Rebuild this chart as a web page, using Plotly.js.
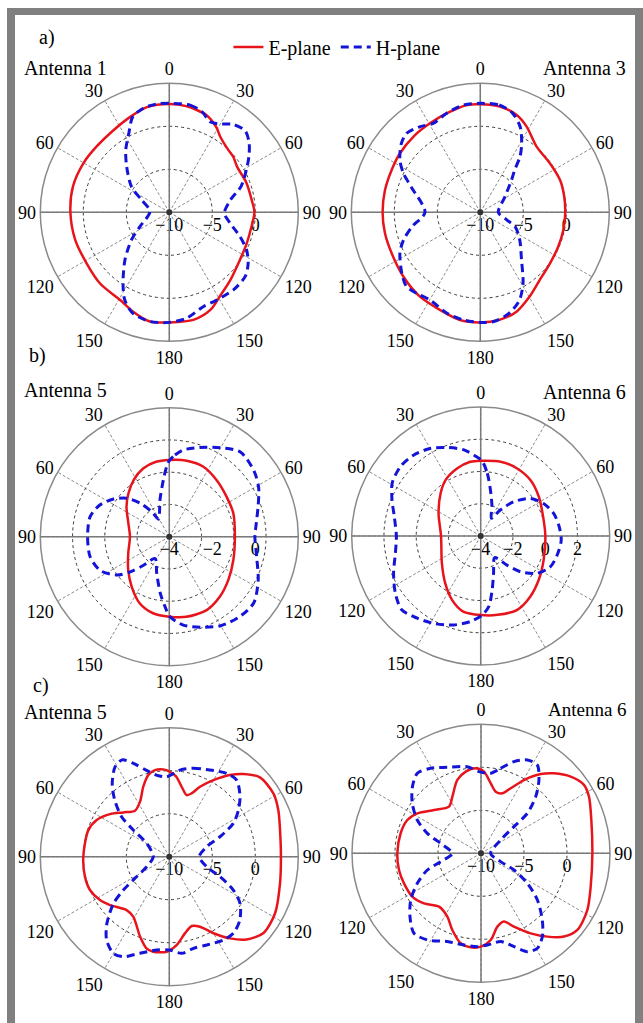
<!DOCTYPE html>
<html><head><meta charset="utf-8">
<script src="https://cdn.plot.ly/plotly-3.0.1.min.js"></script>
<style>
html,body{margin:0;padding:0;background:#fff;overflow:hidden;}
#frame{position:absolute;left:7px;top:8px;width:620px;height:1008px;border-left:8px solid #808080;border-top:7px solid #808080;border-right:8px solid #808080;background:#fff;}
#chart{position:absolute;left:0;top:0;width:643px;height:1023px;}
</style></head>
<body><div id="frame"></div><div id="chart"></div>
<script>
// ---------- angular axis ----------
const angTickVals = [0,30,60,90,120,150,180,210,240,270,300,330];
const angTickText = ['0','30','60','90','120','150','180','150','120','90','60','30'];

// ---------- radial axes ----------
const rangeDb15 = [-10, 5];  const ticksDb15 = [-10, -5, 0];
const rangeB6 = [-4, 4];     const ticksB6 = [-4, -2, 0, 2];
const rangeB5 = [-4, 2];     const ticksB5 = [-4, -2, 0];
const gridB5Range = [-4, 4]; const gridB5Ticks = [-2, 0, 2];

// ---------- a) Antenna 1 ----------
const thetaA1E = [0, 9, 21, 29, 34, 43, 49, 56, 69, 82, 90, 100, 112, 124, 138, 149, 157, 167, 180, 190, 200, 209, 224, 238, 254, 270, 285, 300, 312, 326, 338, 348];
const rA1E     = [2.6, 2.5, 2.1, 1.3, 0.6, 0.0, -0.15, -0.5, -0.4, -0.3, -0.1, -0.3, -0.3, -0.1, 0.6, 1.4, 2.3, 2.8, 2.8, 2.9, 2.3, 1.7, 1.55, 1.3, 1.4, 1.5, 1.6, 1.5, 1.4, 1.55, 2.0, 2.5];
const thetaA1H = [0, 11, 18, 24, 29, 36, 43, 49, 55, 61, 70, 79, 91, 100, 109, 116, 123, 130, 140, 152, 160, 171, 180, 190, 200, 207, 213, 223, 234, 244, 273, 294, 304, 317, 325, 333, 339, 346, 353];
const rA1H     = [2.67, 2.7, 2.3, 1.55, 1.75, 2.62, 2.95, 2.3, 1.3, 0.25, -1.1, -2.8, -3.6, -2.83, -1.3, 0.0, 0.93, 1.55, 1.7, 1.6, 1.65, 2.5, 2.8, 2.9, 2.47, 1.42, -0.12, -2.44, -4.57, -6.2, -7.75, -6.48, -4.7, -2.73, -1.17, 0.35, 1.88, 2.47, 2.67];

// ---------- a) Antenna 3 ----------
const thetaA3E = [0, 10.5, 20.5, 28.4, 40.6, 55, 68, 79, 90, 102, 114, 126, 139, 150, 160, 170, 180, 191, 202, 216, 230, 245, 258, 270, 283, 296, 306, 319, 331, 343, 353];
const rA3E     = [2.56, 2.5, 2.08, 1.33, 0.06, -0.1, 0.0, -0.07, -0.12, -0.13, -0.1, 0.04, 0.49, 1.38, 2.3, 2.7, 2.8, 2.74, 2.3, 2.05, 1.66, 1.36, 1.35, 1.36, 1.38, 1.43, 1.59, 1.75, 1.9, 2.2, 2.58];
const thetaA3H = [0, 10, 18, 25, 31, 35.5, 39, 44, 57.6, 90, 106, 112.5, 125, 139, 149, 156, 164, 173, 180, 189, 198, 210, 218, 225, 232, 243, 250, 258, 270, 290, 297, 303, 311, 317, 325, 332, 341, 351];
const rA3H     = [2.67, 2.67, 2.13, 0.97, -0.66, -2.05, -3.64, -4.77, -6.6, -7.9, -6.8, -5.6, -4.4, -2.7, -0.35, 1.19, 2.2, 2.8, 2.8, 2.67, 2.37, 1.76, 1.98, 2.17, 1.57, 0.49, -0.48, -1.86, -3.57, -1.47, 0.04, 1.15, 2.17, 2.56, 2.17, 1.7, 2.16, 2.63];

// ---------- b) Antenna 5 ----------
const thetaB5E = [0, 13, 26, 40, 55, 70, 90, 110, 126, 140, 153, 168, 180, 192, 204, 217, 231, 248, 270, 288, 305, 317, 328, 339, 350];
const rB5E     = [-0.43, -0.37, -0.38, -0.57, -0.75, -0.83, -0.95, -0.83, -0.6, -0.35, -0.17, -0.19, -0.28, -0.36, -0.61, -1.09, -1.54, -1.94, -2.17, -2.0, -1.57, -1.22, -0.88, -0.6, -0.46];
const thetaB5H = [0, 4, 9, 19, 30, 40, 52, 61, 71, 83, 90, 103, 116, 128, 138, 150, 161, 171, 179.5, 183.5, 189, 199, 213, 222, 228, 234, 244, 256, 270, 284, 294.5, 304, 312, 319, 325, 329, 340, 345.7, 354, 357.8];
const rB5H     = [-0.46, -0.19, 0.08, 0.39, 0.78, 1.14, 0.99, 0.75, 0.37, 0.06, -0.02, 0.17, 0.6, 0.99, 0.96, 0.78, 0.45, 0.16, -0.28, -0.74, -1.33, -2.2, -2.79, -2.21, -1.55, -0.97, -0.42, -0.2, -0.2, -0.2, -0.45, -0.87, -1.33, -1.94, -2.58, -3.05, -2.68, -2.24, -1.35, -0.74];

// ---------- b) Antenna 6 ----------
const thetaB6E = [0, 15, 28, 42, 56, 73, 90, 111, 127, 141, 154, 168, 180, 193, 204, 217, 235, 270, 298, 317, 328, 341, 352];
const rB6E     = [0.67, 0.77, 0.76, 0.64, 0.35, 0.05, 0.01, 0.18, 0.51, 0.86, 1.11, 1.0, 0.9, 0.81, 0.35, -0.34, -1.06, -1.54, -1.04, -0.36, 0.1, 0.44, 0.65];
const thetaB6H = [1, 6, 12, 21, 31, 37, 44, 53, 63, 73, 83, 93, 103, 114, 123.5, 132, 138, 147, 161, 168, 173.5, 179, 187, 197, 208, 218, 227, 236, 247, 258.5, 270, 282.6, 292, 301, 311, 320, 330, 339, 349, 357];
const rB6H     = [0.67, -0.09, -1.09, -2.05, -2.72, -1.98, -1.05, -0.13, 0.4, 0.74, 0.9, 1.0, 0.9, 0.72, 0.19, -0.69, -1.57, -2.4, -1.55, -0.58, 0.41, 0.9, 1.35, 1.77, 2.15, 2.45, 2.7, 2.38, 1.87, 1.4, 1.23, 1.49, 1.93, 2.4, 2.58, 2.52, 2.27, 1.88, 1.44, 0.92];

// ---------- c) Antenna 5 ----------
const thetaC5E = [0.4, 5, 10, 15.7, 19.4, 23.7, 30, 36.6, 41.8, 48.8, 58.7, 66.8, 76.5, 90, 103.5, 118, 129, 137, 143.4, 150, 156.3, 162, 168.5, 175.3, 181.6, 189.6, 194, 200, 211, 218.7, 230.8, 238, 247, 256.7, 270, 288, 296.8, 305.7, 313.9, 323.3, 332, 339.6, 345.6, 350.6, 356];
const rC5E     = [-0.12, -0.66, -1.74, -2.56, -2.19, -1.12, 0.27, 1.82, 2.9, 4.0, 4.16, 3.79, 3.24, 2.98, 3.24, 3.94, 4.1, 3.16, 1.83, 0.28, -1.11, -1.53, -0.9, 0.31, 1.05, 1.2, 0.98, -0.09, -1.86, -2.05, -1.1, -0.49, 0.0, 0.08, 0.0, -0.09, -0.54, -1.51, -2.57, -3.33, -2.75, -1.32, -0.19, 0.21, 0.18];
const thetaC5H = [7, 15, 25, 34.5, 41.3, 49.7, 56, 62.5, 68.5, 75, 90, 105, 111.5, 117.5, 123.4, 132, 140, 147, 157, 165, 172.7, 180, 187.7, 197, 204.7, 210, 217, 223, 230, 234, 238.5, 246, 270, 300.5, 306.5, 310, 316, 322, 329, 334, 339, 345, 351, 358];
const rC5H     = [0.15, 0.64, 1.13, 1.76, 1.86, 0.78, -0.31, -1.61, -3.67, -5.5, -6.51, -5.5, -3.67, -1.61, -0.15, 1.03, 1.61, 1.55, 1.15, 1.02, 1.33, 0.85, 0.95, 1.74, 2.8, 3.0, 2.12, 0.64, -1.52, -3.4, -5.54, -7.12, -8.14, -6.94, -4.79, -2.76, -0.87, 0.78, 2.22, 2.53, 1.63, 0.42, -0.39, -0.7];

// ---------- c) Antenna 6 ----------
const thetaC6E = [2.1, 7.9, 13.4, 19.6, 24.5, 30.4, 37, 42.4, 49.5, 56.4, 62.3, 73.2, 90, 106.9, 118, 128.5, 135.1, 141.5, 148.2, 155.8, 161.4, 167.4, 173.6, 180, 186.3, 192.7, 200.5, 208, 218.2, 228.7, 237.8, 248.7, 258.5, 270, 284, 294.3, 302.1, 312.7, 325.6, 333.2, 342.1, 349.4, 356.4];
const rC6E     = [-0.5, -1.78, -2.63, -2.6, -1.69, -0.12, 1.54, 2.6, 3.72, 4.37, 4.18, 3.4, 2.95, 3.33, 4.01, 4.32, 3.67, 2.38, 0.95, -0.65, -1.62, -1.26, 0.14, 0.85, 1.0, 0.73, -0.48, -1.66, -2.1, -1.18, -0.56, -0.39, -0.27, -0.27, -0.37, -0.6, -1.26, -2.57, -3.42, -2.62, -1.04, -0.34, -0.1];
const thetaC6H = [6.9, 13, 19.8, 26.4, 32.5, 38.3, 44, 49.2, 51, 55.9, 90, 113, 116.8, 122.9, 129.6, 137.4, 143.6, 149.3, 154.8, 160.5, 167.4, 176, 182.2, 190.5, 200.9, 211.8, 220, 228.3, 236.4, 244.8, 252.7, 258.3, 270, 283.9, 290.4, 297.6, 306, 314.2, 321.5, 329.4, 338.6, 351, 358.6];
const rC6H     = [-0.63, 0.14, 1.33, 2.12, 2.18, 0.87, -0.84, -2.88, -5.07, -7.24, -8.88, -7.52, -5.7, -3.58, -1.49, 0.53, 2.03, 2.84, 2.64, 1.51, 0.52, 0.69, 0.86, 0.84, 0.99, 1.85, 2.13, 1.06, -0.19, -1.82, -3.47, -5.21, -6.67, -5.17, -3.34, -1.64, -0.12, 1.12, 1.89, 1.49, 0.74, 0.2, -0.5];

// ---------- styling / layout ----------
const RED = '#e8141c', BLUE = '#1414d8';
const FONT = '"Liberation Serif", "Times New Roman", "DejaVu Serif", serif';
const W = 643, H = 1023, R = 129;
function dom(cx, cy) {
  return {x: [(cx - R) / W, (cx + R) / W], y: [(H - cy - R) / H, (H - cy + R) / H]};
}
function angAxis(visible) {
  if (!visible) return {rotation: 90, direction: 'clockwise', showgrid: false, showline: false, showticklabels: false, ticks: ''};
  return {rotation: 90, direction: 'clockwise', tickmode: 'array', tickvals: angTickVals, ticktext: angTickText,
    tickfont: {family: FONT, size: 18, color: '#000'}, ticks: '', showline: true, linecolor: '#8a8a8a', linewidth: 1.5,
    showgrid: true, gridcolor: '#8c8c8c', gridwidth: 1, griddash: '3px,2px', layer: 'below traces'};
}
function radAxis(range, tickvals, opts) {
  return Object.assign({range: range, tickmode: 'array', tickvals: tickvals, angle: 0, side: 'clockwise',
    showline: false, ticks: '', showgrid: true, gridcolor: '#3a3a3a', gridwidth: 1, griddash: 'dot',
    tickfont: {family: FONT, size: 18, color: '#000'}, layer: 'below traces'}, opts || {});
}
function closed(a) { return a.concat([a[0]]); }

const traces = [];
function addFrame(sub, lim) {
  traces.push({type: 'scatterpolar', subplot: sub, mode: 'lines', r: [lim[1], lim[0], lim[1]], theta: [0, 0, 180],
    line: {color: '#7a7a7a', width: 1.5}, showlegend: false, hoverinfo: 'skip'});
  traces.push({type: 'scatterpolar', subplot: sub, mode: 'lines', r: [lim[1], lim[0], lim[1]], theta: [90, 90, 270],
    line: {color: '#7a7a7a', width: 1.5}, showlegend: false, hoverinfo: 'skip'});
}
function addDot(sub, lim) {
  traces.push({type: 'scatterpolar', subplot: sub, mode: 'markers', r: [lim[0]], theta: [0],
    marker: {size: 6, color: '#333'}, showlegend: false, hoverinfo: 'skip'});
}
function addCurves(sub, thE, rE, thH, rH, legend) {
  traces.push({type: 'scatterpolar', subplot: sub, mode: 'lines', name: 'E-plane', r: closed(rE), theta: closed(thE),
    line: {color: RED, width: 2.5, shape: 'spline', smoothing: 0.8}, showlegend: legend, legendrank: 1});
  traces.push({type: 'scatterpolar', subplot: sub, mode: 'lines', name: 'H-plane', r: closed(rH), theta: closed(thH),
    line: {color: BLUE, width: 3, dash: '8px,5px', shape: 'spline', smoothing: 0.8}, showlegend: legend, legendrank: 2});
}
addFrame('polar', rangeDb15);  addCurves('polar', thetaA1E, rA1E, thetaA1H, rA1H, true);  addDot('polar', rangeDb15);
addFrame('polar2', rangeDb15); addCurves('polar2', thetaA3E, rA3E, thetaA3H, rA3H, false); addDot('polar2', rangeDb15);
addFrame('polar3', gridB5Range);
addCurves('polar7', thetaB5E, rB5E, thetaB5H, rB5H, false); addDot('polar7', rangeB5);
addFrame('polar4', rangeB6);   addCurves('polar4', thetaB6E, rB6E, thetaB6H, rB6H, false); addDot('polar4', rangeB6);
addFrame('polar5', rangeDb15); addCurves('polar5', thetaC5E, rC5E, thetaC5H, rC5H, false); addDot('polar5', rangeDb15);
addFrame('polar6', rangeDb15); addCurves('polar6', thetaC6E, rC6E, thetaC6H, rC6H, false); addDot('polar6', rangeDb15);

function lbl(text, x, y, anchor, size) {
  return {text: text, x: x / W, y: (H - y) / H, xref: 'paper', yref: 'paper', xanchor: anchor, yanchor: 'middle',
    showarrow: false, font: {family: FONT, size: size || 20, color: '#000'}};
}
const bg = 'rgba(0,0,0,0)';
const layout = {
  width: W, height: H, margin: {l: 0, r: 0, t: 0, b: 0},
  paper_bgcolor: bg, plot_bgcolor: bg, font: {family: FONT},
  showlegend: true,
  legend: {orientation: 'h', x: 0.524, y: (H - 47) / H, xanchor: 'center', yanchor: 'middle',
    font: {family: FONT, size: 20, color: '#000'}, bgcolor: bg, itemwidth: 30, traceorder: 'normal'},
  polar:  {domain: dom(169.3, 212.3), bgcolor: bg, angularaxis: angAxis(true), radialaxis: radAxis(rangeDb15, ticksDb15)},
  polar2: {domain: dom(480.3, 212.3), bgcolor: bg, angularaxis: angAxis(true), radialaxis: radAxis(rangeDb15, ticksDb15)},
  polar3: {domain: dom(169.3, 536.7), bgcolor: bg, angularaxis: angAxis(true), radialaxis: radAxis(gridB5Range, gridB5Ticks, {showticklabels: false})},
  polar4: {domain: dom(480.7, 536), bgcolor: bg, angularaxis: angAxis(true), radialaxis: radAxis(rangeB6, ticksB6)},
  polar5: {domain: dom(169.3, 856.7), bgcolor: bg, angularaxis: angAxis(true), radialaxis: radAxis(rangeDb15, ticksDb15)},
  polar6: {domain: dom(481, 853.3), bgcolor: bg, angularaxis: angAxis(true), radialaxis: radAxis(rangeDb15, ticksDb15)},
  polar7: {domain: dom(169.3, 536.7), bgcolor: bg, angularaxis: angAxis(false), radialaxis: radAxis(rangeB5, ticksB5, {showgrid: false})},
  annotations: [
    lbl('a)', 37, 38, 'left'),
    lbl('Antenna 1', 22, 68, 'left'),
    lbl('Antenna 3', 628, 68, 'right'),
    lbl('b)', 27, 355, 'left'),
    lbl('Antenna 5', 22, 390, 'left'),
    lbl('Antenna 6', 628, 392, 'right'),
    lbl('c)', 31, 685, 'left'),
    lbl('Antenna 5', 22, 712, 'left'),
    lbl('Antenna 6', 629, 709, 'right', 19)
  ]
};
Plotly.newPlot('chart', traces, layout, {displayModeBar: false, staticPlot: true});
</script></body></html>
